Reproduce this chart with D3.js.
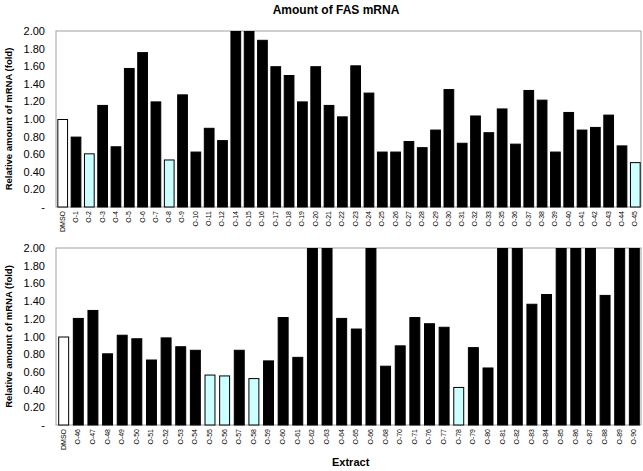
<!DOCTYPE html>
<html>
<head>
<meta charset="utf-8">
<script src="https://cdn.jsdelivr.net/npm/d3@7"></script>
<style>
  body { margin: 0; background: #fff; }
  text { font-family: "Liberation Sans", Arial, sans-serif; }
</style>
</head>
<body>
<script>
// top panel
var topCats = ["DMSO","O-1","O-2","O-3","O-4","O-5","O-6","O-7","O-8","O-9","O-10","O-11","O-12",
  "O-14","O-15","O-16","O-17","O-18","O-19","O-20","O-21","O-22","O-23","O-24","O-25","O-26",
  "O-27","O-28","O-29","O-30","O-31","O-32","O-33","O-35","O-36","O-37","O-38","O-39","O-40",
  "O-41","O-42","O-43","O-44","O-45"];
var topVals = [1.00,0.80,0.61,1.16,0.69,1.58,1.76,1.20,0.54,1.28,0.63,0.90,0.76,
  2.00,2.00,1.90,1.60,1.50,1.20,1.60,1.16,1.03,1.61,1.30,0.63,0.63,
  0.75,0.68,0.88,1.34,0.73,1.04,0.85,1.12,0.72,1.33,1.22,0.63,1.08,
  0.88,0.91,1.05,0.70,0.51];
var topLow = ["O-2","O-8","O-45"];

// bottom panel
var botCats = ["DMSO","O-46","O-47","O-48","O-49","O-50","O-51","O-52","O-53","O-54","O-55",
  "O-56","O-57","O-58","O-59","O-60","O-61","O-62","O-63","O-64","O-65","O-66","O-68","O-70",
  "O-71","O-76","O-77","O-78","O-79","O-80","O-81","O-82","O-83","O-84","O-85","O-86","O-87",
  "O-88","O-89","O-90"];
var botVals = [1.00,1.21,1.30,0.81,1.02,0.98,0.74,0.99,0.89,0.85,0.57,
  0.56,0.85,0.53,0.73,1.22,0.77,2.00,2.00,1.21,1.09,2.00,0.67,0.90,
  1.22,1.15,1.11,0.43,0.88,0.65,2.00,2.00,1.37,1.48,2.00,2.00,2.00,
  1.47,2.00,2.00];
var botLow = ["O-55","O-56","O-58","O-78"];

var yTicks = [0,0.2,0.4,0.6,0.8,1.0,1.2,1.4,1.6,1.8,2.0];

var width = 643, height = 471;
var svg = d3.select("body").append("svg")
    .attr("width", width)
    .attr("height", height);

svg.append("text")
    .attr("x", 336).attr("y", 14)
    .attr("text-anchor", "middle")
    .style("font-size", "12px").style("font-weight", "bold")
    .text("Amount of FAS mRNA");

function drawPanel(cats, vals, low, top, bottom, padIn, padOut)
{
    var left = 56, right = 641;
    var x = d3.scaleBand().domain(cats).range([left, right])
        .paddingInner(padIn).paddingOuter(padOut);
    var y = d3.scaleLinear().domain([0, 2]).range([bottom, top]);

    var g = svg.append("g");

    g.append("rect")
        .attr("x", left).attr("y", top)
        .attr("width", right - left).attr("height", bottom - top)
        .attr("fill", "none").attr("stroke", "#a0a0a0");

    g.selectAll("rect.bar")
        .data(cats)
        .enter()
        .append("rect")
        .attr("class", "bar")
        .attr("x", function (d) { return x(d) + 0.5; })
        .attr("width", x.bandwidth())
        .attr("y", function (d, i) { return y(vals[i]) + 0.5; })
        .attr("height", function (d, i) { return bottom - y(vals[i]) - 0.5; })
        .attr("fill", function (d) {
            if (d == "DMSO") return "#ffffff";
            if (low.indexOf(d) >= 0) return "#ccffff";
            return "#000000";
        })
        .attr("stroke", "#000")
        .attr("stroke-width", 1);

    var yAxis = d3.axisLeft(y).tickValues(yTicks).tickSize(0).tickPadding(11)
        .tickFormat(function (d) { return d == 0 ? "-" : d3.format(".2f")(d); });
    var ya = g.append("g").attr("transform", "translate(" + left + ",0)").call(yAxis);
    ya.select(".domain").remove();
    ya.selectAll("text").style("font-size", "11px").attr("fill", "#000");

    var xAxis = d3.axisBottom(x).tickSize(0).tickPadding(0);
    var xa = g.append("g").attr("transform", "translate(0," + bottom + ")").call(xAxis);
    xa.select(".domain").remove();
    xa.selectAll("text")
        .style("font-size", "7px").attr("fill", "#000")
        .attr("transform", "rotate(-90)")
        .attr("text-anchor", "end")
        .attr("x", -4).attr("y", 0).attr("dy", "0.35em");

    g.append("text")
        .attr("transform", "translate(12," + ((top + bottom) / 2) + ") rotate(-90)")
        .attr("text-anchor", "middle")
        .style("font-size", "9.5px").style("font-weight", "bold")
        .text("Relative amount of mRNA (fold)");
}

drawPanel(topCats, topVals, topLow, 31, 207, 0.27, 0.1);
drawPanel(botCats, botVals, botLow, 248, 425, 0.32, 0.15);

svg.append("text")
    .attr("x", 332).attr("y", 466)
    .style("font-size", "11px").style("font-weight", "bold")
    .text("Extract");
</script>
</body>
</html>
